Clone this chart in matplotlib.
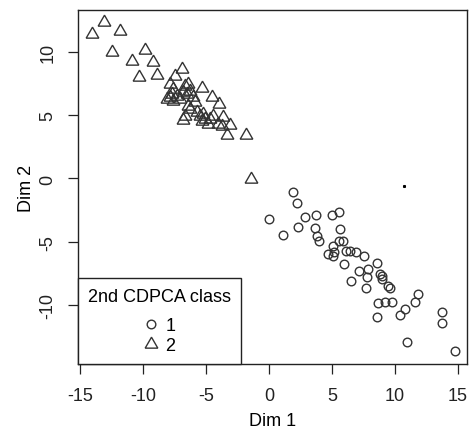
import matplotlib
matplotlib.use("Agg")
import matplotlib.pyplot as plt


PNG_FILE = "out.png"


# ==========================
# data
# ==========================

# class 1 (circles)
dim1_c1 = [0.00, 1.11, 1.90, 2.22, 2.30, 2.86, 3.73, 3.65, 3.81, 3.97,
           5.00, 5.56, 5.63, 5.56, 5.87, 5.08, 4.68, 5.16, 5.08, 5.95,
           6.11, 6.43, 6.90, 7.54, 8.57, 7.14, 7.86, 7.78, 6.51, 7.70,
           8.81, 8.97, 8.97, 9.44, 9.60, 8.65, 9.21, 9.76, 8.57, 10.40,
           10.79, 11.59, 11.83, 10.95, 13.73, 13.73, 14.76]
dim2_c1 = [-3.19, -4.45, -1.06, -1.93, -3.82, -3.03, -2.87, -3.90, -4.53, -4.92,
           -2.87, -2.64, -3.98, -4.92, -4.92, -5.31, -5.94, -5.79, -6.10, -6.73,
           -5.71, -5.71, -5.79, -6.10, -6.65, -7.28, -7.13, -7.76, -8.07, -8.62,
           -7.52, -7.68, -7.91, -8.46, -8.62, -9.80, -9.72, -9.72, -10.91, -10.75,
           -10.28, -9.72, -9.09, -12.87, -10.51, -11.38, -13.58]

# class 2 (triangles)
dim1_c2 = [-14.05, -13.10, -11.83, -12.46, -9.84, -10.87, -9.21, -10.32, -8.89, -6.90,
           -7.46, -7.86, -7.62, -7.70, -7.30, -6.67, -6.43, -6.83, -6.51, -6.27,
           -5.32, -6.03, -4.52, -3.97, -6.43, -6.27, -6.67, -6.83, -5.71, -5.48,
           -5.24, -5.08, -5.32, -4.68, -4.44, -3.65, -4.05, -3.73, -3.10, -3.33,
           -1.83, -4.84, -8.10, -7.86, -7.62, -1.43, -5.87, -7.06]
dim2_c2 = [11.38, 12.32, 11.61, 9.96, 10.12, 9.25, 9.17, 7.99, 8.15, 8.62,
           8.07, 7.44, 7.05, 6.65, 6.50, 7.28, 7.44, 6.81, 6.65, 6.89,
           7.13, 6.42, 6.42, 5.87, 5.71, 5.47, 4.92, 4.61, 5.24, 4.92,
           5.08, 4.69, 4.53, 4.69, 4.92, 4.84, 4.29, 4.13, 4.21, 3.43,
           3.43, 4.29, 6.26, 6.42, 6.10, -0.04, 6.02, 6.26]

# small stray dot
stray_x = [10.71]
stray_y = [-0.59]

class_labels = ["1", "2"]
x_ticks = [-15, -10, -5, 0, 5, 10, 15]
y_ticks = [-10, -5, 0, 5, 10]


# ==========================
# style
# ==========================

plt.rcParams["font.family"] = ["Liberation Sans", "DejaVu Sans"]
plt.rcParams["font.size"] = 13
plt.rcParams["axes.unicode_minus"] = False


# ==========================
# plot
# ==========================

fig = plt.figure(figsize=(4.69, 4.35), dpi=100)
ax = fig.add_axes([0.1663, 0.1609, 0.8294, 0.8138])

ax.plot(dim1_c1, dim2_c1, linestyle="none", marker="o", markersize=6.2,
        markerfacecolor="none", markeredgecolor="#333333", markeredgewidth=1.0,
        label=class_labels[0])
ax.plot(dim1_c2, dim2_c2, linestyle="none", marker=(3, 0, 0), markersize=10.5,
        markerfacecolor="none", markeredgecolor="#333333", markeredgewidth=1.0,
        label=class_labels[1])
ax.plot(stray_x, stray_y, linestyle="none", marker="s", markersize=1.2,
        color="black")

ax.set_xlim(-15.16, 15.71)
ax.set_ylim(-14.61, 13.27)

ax.set_xticks(x_ticks)
ax.set_yticks(y_ticks)
ax.tick_params(direction="out", length=7.5, width=0.9, pad=9, colors="#222222")
ax.tick_params(axis="y", labelrotation=90, pad=8)
for lbl in ax.get_yticklabels():
    lbl.set_va("center")

for s in ax.spines.values():
    s.set_linewidth(1.0)
    s.set_color("#222222")

ax.set_xlabel("Dim 1", labelpad=6)
ax.set_ylabel("Dim 2", labelpad=3)


# ==========================
# legend
# ==========================

leg = ax.legend(
    title="2nd CDPCA class",
    loc="lower left",
    bbox_to_anchor=(0, 0),
    borderaxespad=0,
    fancybox=False,
    framealpha=1,
    edgecolor="#222222",
    borderpad=0.55,
    labelspacing=0.17,
    handlelength=0.8,
    handletextpad=0.4,
    fontsize=13,
    title_fontsize=13,
)
leg.get_frame().set_linewidth(1.0)
leg._legend_box.sep = 9


plt.savefig(PNG_FILE, dpi=100)
plt.close()
